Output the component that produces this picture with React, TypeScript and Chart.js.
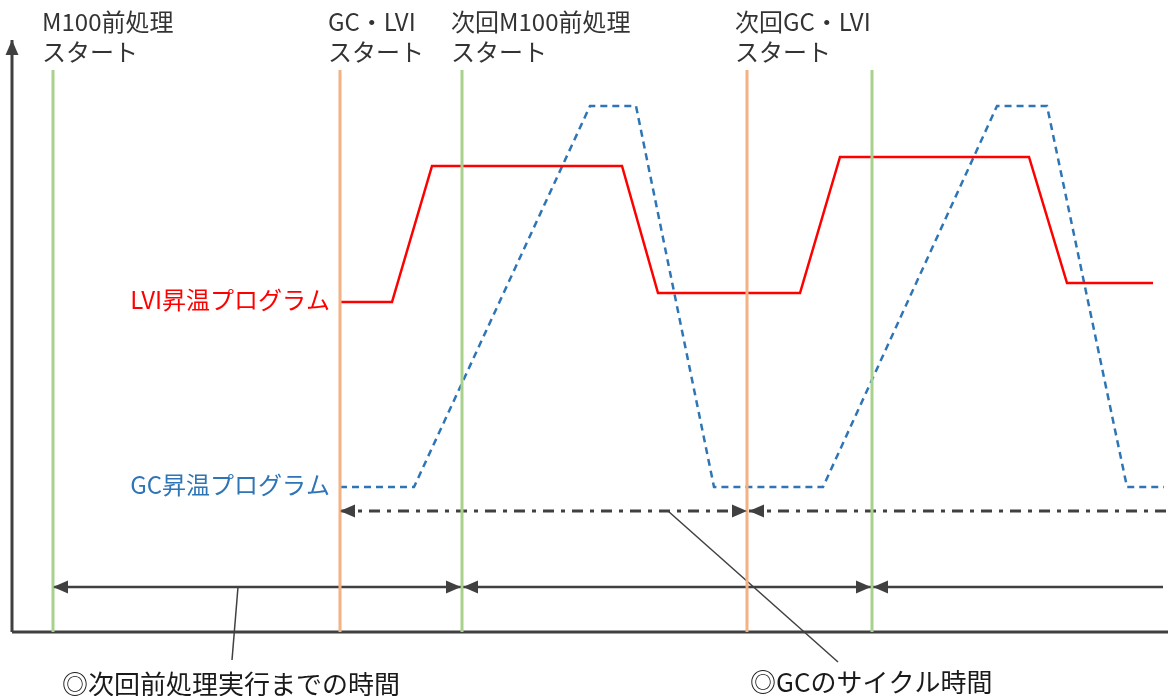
import React, { useEffect, useRef } from "react";
import { Chart, registerables } from "chart.js";

Chart.register(...registerables);

// time (x) and temperature (y) in diagram units; axis origin at (0,0)
const eventTimes = [41, 328, 450, 735, 860];
const eventKinds = ["prep", "gc", "prep", "gc", "prep"];
const eventTop = 562;

const lviTime = [328, 380, 420, 610, 646, 788, 828, 1017, 1055, 1141];
const lviTemp = [330, 330, 466, 466, 339, 339, 475, 475, 349, 349];

const gcTime = [328, 402, 578, 624, 702, 811, 985, 1035, 1115, 1152];
const gcTemp = [145, 145, 526, 526, 145, 145, 526, 526, 145, 145];

const cycleLevel = 121;
const cycleSpans = [
  [328, 735],
  [737, 1156],
];
const cycleHeads = [
  [true, true],
  [true, false],
];

const prepLevel = 45;
const prepSpans = [
  [41, 449],
  [451, 859],
  [861, 1151],
];
const prepHeads = [
  [true, true],
  [true, true],
  [true, false],
];

const leaderPrep = [
  [226, 45],
  [220, -28],
];
const leaderCycle = [
  [656, 121],
  [826, -30],
];

const topLabels = [
  ["M100前処理", "スタート"],
  ["GC・LVI", "スタート"],
  ["次回M100前処理", "スタート"],
  ["次回GC・LVI", "スタート"],
];
const topLabelTimes = [30, 316, 439, 723];

const seriesLabels = ["LVI昇温プログラム", "GC昇温プログラム"];
const bottomLabels = ["◎次回前処理実行までの時間", "◎GCのサイクル時間"];

const FONT = '"Noto Sans CJK JP", "Noto Sans", sans-serif';
const AXIS_COLOR = "#404040";

const annotationPlugin = {
  id: "diagramAnnotations",
  afterDatasetsDraw(chart: any) {
    const ctx = chart.ctx as CanvasRenderingContext2D;
    const xs = chart.scales.x;
    const ys = chart.scales.y;
    const px = (v: number) => xs.getPixelForValue(v);
    const py = (v: number) => ys.getPixelForValue(v);

    // arrowheads
    chart.data.datasets.forEach((ds: any) => {
      if (!ds.heads) return;
      const d = ds.data;
      const drawHead = (tip: any, from: any) => {
        const tx = px(tip.x), ty = py(tip.y);
        const fx = px(from.x), fy = py(from.y);
        const ang = Math.atan2(ty - fy, tx - fx);
        const len = 15, w = 6.5;
        ctx.save();
        ctx.fillStyle = AXIS_COLOR;
        ctx.beginPath();
        ctx.moveTo(tx, ty);
        ctx.lineTo(tx - len * Math.cos(ang) + w * Math.sin(ang), ty - len * Math.sin(ang) - w * Math.cos(ang));
        ctx.lineTo(tx - len * Math.cos(ang) - w * Math.sin(ang), ty - len * Math.sin(ang) + w * Math.cos(ang));
        ctx.closePath();
        ctx.fill();
        ctx.restore();
      };
      if (ds.heads[0]) drawHead(d[0], d[1]);
      if (ds.heads[1]) drawHead(d[d.length - 1], d[d.length - 2]);
    });

    ctx.save();
    ctx.textBaseline = "middle";
    // top labels
    ctx.font = `24px ${FONT}`;
    ctx.fillStyle = "#333333";
    ctx.textAlign = "left";
    topLabels.forEach((lines, i) => {
      ctx.fillText(lines[0], px(topLabelTimes[i]), py(610));
      ctx.fillText(lines[1], px(topLabelTimes[i]), py(580));
    });
    // series labels
    ctx.textAlign = "right";
    ctx.fillStyle = "#ff0000";
    ctx.fillText(seriesLabels[0], px(318), py(332));
    ctx.fillStyle = "#2e75b6";
    ctx.fillText(seriesLabels[1], px(318), py(147));
    // bottom labels
    ctx.textAlign = "left";
    ctx.fillStyle = "#1a1a1a";
    ctx.font = `26px ${FONT}`;
    ctx.fillText(bottomLabels[0], px(50), py(-52));
    ctx.fillText(bottomLabels[1], px(738), py(-50));
    ctx.restore();
  },
};

export default function App() {
  const ref = useRef<HTMLCanvasElement>(null);

  useEffect(() => {
    if (!ref.current) return;
    const datasets: any[] = [];

    eventTimes.forEach((t, i) => {
      datasets.push({
        data: [
          { x: t, y: 0 },
          { x: t, y: eventTop },
        ],
        borderColor: eventKinds[i] === "prep" ? "#a9d18e" : "#f4b183",
        borderWidth: 3,
      });
    });

    datasets.push({
      label: seriesLabels[0],
      data: lviTime.map((t, i) => ({ x: t, y: lviTemp[i] })),
      borderColor: "#ff0000",
      borderWidth: 2.5,
    });
    datasets.push({
      label: seriesLabels[1],
      data: gcTime.map((t, i) => ({ x: t, y: gcTemp[i] })),
      borderColor: "#2e75b6",
      borderWidth: 2.5,
      borderDash: [7, 5],
    });

    cycleSpans.forEach((s, i) => {
      datasets.push({
        data: [
          { x: s[0], y: cycleLevel },
          { x: s[1], y: cycleLevel },
        ],
        borderColor: AXIS_COLOR,
        borderWidth: 3,
        borderDash: [11, 7, 4, 7],
        heads: cycleHeads[i],
      });
    });
    prepSpans.forEach((s, i) => {
      datasets.push({
        data: [
          { x: s[0], y: prepLevel },
          { x: s[1], y: prepLevel },
        ],
        borderColor: AXIS_COLOR,
        borderWidth: 2.5,
        heads: prepHeads[i],
      });
    });

    [leaderPrep, leaderCycle].forEach((l) => {
      datasets.push({
        data: l.map((p) => ({ x: p[0], y: p[1] })),
        borderColor: AXIS_COLOR,
        borderWidth: 1.5,
      });
    });

    // axes
    datasets.push({
      data: [
        { x: 0, y: 0 },
        { x: 0, y: 592 },
      ],
      borderColor: AXIS_COLOR,
      borderWidth: 3,
      heads: [false, true],
    });
    datasets.push({
      data: [
        { x: 0, y: 0 },
        { x: 1160, y: 0 },
      ],
      borderColor: AXIS_COLOR,
      borderWidth: 3,
    });

    datasets.forEach((d) => {
      d.showLine = true;
      d.pointRadius = 0;
      d.fill = false;
      d.tension = 0;
    });

    const chart = new Chart(ref.current, {
      type: "scatter",
      data: { datasets },
      options: {
        animation: false,
        responsive: false,
        maintainAspectRatio: false,
        layout: { padding: 0 },
        plugins: { legend: { display: false }, tooltip: { enabled: false } },
        scales: {
          x: { type: "linear", min: -12, max: 1156, display: false },
          y: { type: "linear", min: -64, max: 632, display: false },
        },
      },
      plugins: [annotationPlugin],
    });
    return () => chart.destroy();
  }, []);

  return (
    <div style={{ position: "fixed", left: 0, top: 0, width: 1168, height: 696, background: "#fff" }}>
      <canvas ref={ref} width={1168} height={696} style={{ width: 1168, height: 696 }} />
    </div>
  );
}
